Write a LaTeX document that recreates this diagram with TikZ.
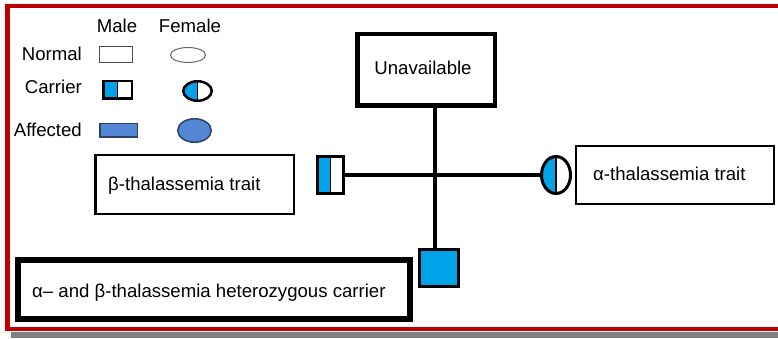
\documentclass[tikz,border=0pt]{standalone}
\usepackage{fontspec}
\setmainfont{Liberation Sans}
\usetikzlibrary{shapes.geometric}
\definecolor{cblue}{RGB}{0,162,232}
\definecolor{ablue}{RGB}{84,134,214}
\definecolor{aedge}{RGB}{45,65,105}
\definecolor{framered}{RGB}{192,0,0}
\definecolor{shadowgray}{RGB}{128,128,128}
\begin{document}
\begin{tikzpicture}[x=1pt,y=-1pt,
  every node/.style={font=\fontsize{18.6}{21}\selectfont},
  txt/.style={inner sep=0pt},
  sym/.style={inner sep=0pt, outer sep=0pt},
  normm/.style={sym, rectangle, draw=black!70, line width=1pt, fill=white},
  normf/.style={sym, ellipse, draw=black!60, line width=1pt, fill=white},
  halfleft/.style={path picture={
      \fill[cblue] (path picture bounding box.south west) rectangle (path picture bounding box.north);
      \draw[black, line width=1.2pt] (path picture bounding box.south) -- (path picture bounding box.north);}},
  carm/.style={sym, rectangle, draw=black, fill=white, halfleft},
  carf/.style={sym, ellipse, draw=black, fill=white, halfleft},
  affm/.style={sym, rectangle, draw=aedge, line width=1.5pt, fill=ablue},
  afff/.style={sym, ellipse, draw=aedge, line width=1.5pt, fill=ablue},
  infobox/.style={sym, rectangle, draw=black, fill=white},
  conn/.style={draw=black, line width=3.5pt}]
\useasboundingbox (0,0) rectangle (778,339);
% frame
\fill[shadowgray] (11,332) rectangle (778,338);
\draw[framered, line width=4.5pt] (783,6) -- (7.5,6) -- (7.5,329) -- (783,329);
% legend
\node[txt, anchor=base] (male) at (117,32.5) {Male};
\node[txt, anchor=base] (female) at (190,32.5) {Female};
\node[txt, anchor=base east] (lnorm) at (82,61) {Normal};
\node[txt, anchor=base east] (lcarr) at (82,94) {Carrier};
\node[txt, anchor=base east] (laff) at (82,137) {Affected};
\node[normm, minimum width=33pt, minimum height=16pt] (nm) at (116,54.5) {};
\node[normf, minimum width=35pt, minimum height=15pt] (nf) at (188,55) {};
\node[carm, line width=2.5pt, minimum width=28.5pt, minimum height=17.5pt] (cm) at (117.5,90) {};
\node[carf, line width=2.5pt, minimum width=28.5pt, minimum height=19.5pt] (cf) at (197.5,91) {};
\node[affm, minimum width=37.5pt, minimum height=13.5pt] (am) at (118.5,130.5) {};
\node[afff, minimum width=33.5pt, minimum height=23.5pt] (af) at (194.5,130.5) {};
% pedigree
\node[infobox, line width=4.5pt, minimum width=137.5pt, minimum height=71.5pt] (unav) at (426,70) {};
\node[txt, anchor=base] (unavt) at (423,75) {Unavailable};
\node[carm, line width=3pt, minimum width=26pt, minimum height=37pt] (father) at (330.5,175) {};
\node[carf, line width=3pt, minimum width=29pt, minimum height=37pt] (mother) at (556,175) {};
\node[sym, rectangle, draw=black, line width=3pt, fill=cblue, minimum width=39pt, minimum height=37pt] (child) at (439,268) {};
\coordinate (vx) at (435,0);
\draw[conn] (father.east) -- (mother.west);
\draw[conn] (unav.south -| vx) -- (child.north -| vx);
% info boxes
\node[infobox, line width=2.5pt, minimum width=198.5pt, minimum height=58.5pt] (bbox) at (194.5,184.5) {};
\node[txt, anchor=base west] (bt) at (108,190) {β-thalassemia trait};
\node[infobox, line width=2pt, minimum width=198pt, minimum height=58pt] (abox) at (675,175) {};
\node[txt, anchor=base west] (at) at (593,180) {α-thalassemia trait};
\node[infobox, line width=6pt, minimum width=392pt, minimum height=59pt] (cbox) at (214,289.5) {};
\node[txt, anchor=base west] (ct) at (32,297) {α– and β-thalassemia heterozygous carrier};
\end{tikzpicture}
\end{document}
